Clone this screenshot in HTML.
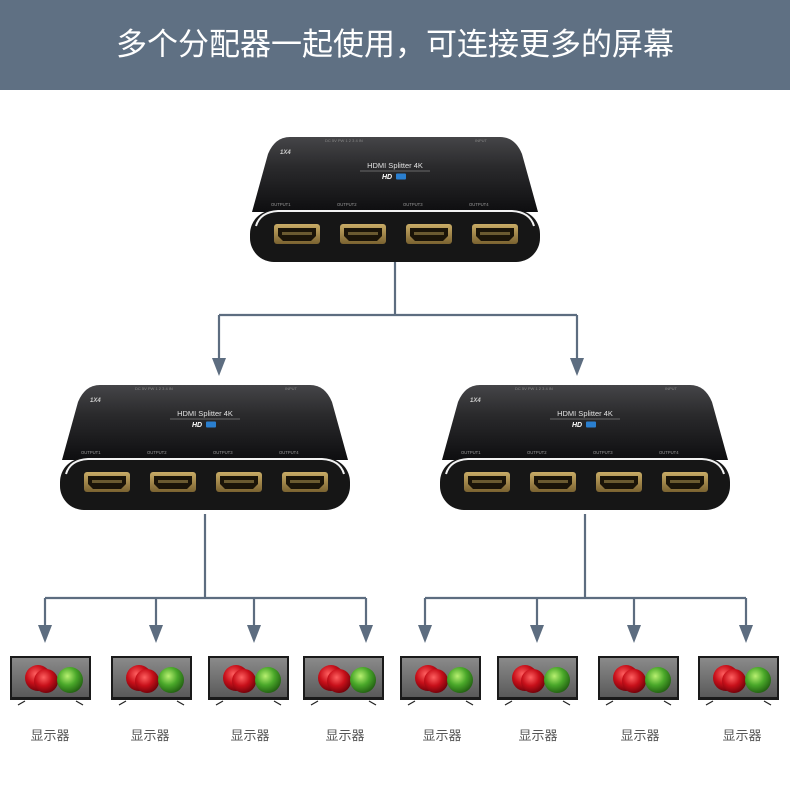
<!DOCTYPE html>
<html><head><meta charset="utf-8"><style>
html,body{margin:0;padding:0;background:#fff;width:790px;height:785px;overflow:hidden}
svg{display:block}
</style></head><body>
<svg width="790" height="785" viewBox="0 0 790 785" xmlns="http://www.w3.org/2000/svg" font-family="Liberation Sans, Noto Sans CJK SC, sans-serif">
<defs>
<linearGradient id="top" x1="0" y1="0" x2="0" y2="1"><stop offset="0" stop-color="#454548"/><stop offset="0.4" stop-color="#2a2a2c"/><stop offset="1" stop-color="#0e0e10"/></linearGradient>
<linearGradient id="gold" x1="0" y1="0" x2="0" y2="1"><stop offset="0" stop-color="#c9ac66"/><stop offset="1" stop-color="#7a6230"/></linearGradient>
<linearGradient id="scr" x1="0" y1="0" x2="0" y2="1"><stop offset="0" stop-color="#8a8a8a"/><stop offset="1" stop-color="#5a5a5a"/></linearGradient>
<radialGradient id="red" cx="0.4" cy="0.35" r="0.7"><stop offset="0" stop-color="#ff6060"/><stop offset="0.5" stop-color="#c8101a"/><stop offset="1" stop-color="#6a0008"/></radialGradient>
<radialGradient id="grn" cx="0.4" cy="0.35" r="0.7"><stop offset="0" stop-color="#b8f070"/><stop offset="0.5" stop-color="#4aa82a"/><stop offset="1" stop-color="#1f5a10"/></radialGradient>
<g id="port">
<rect x="-23" y="-10" width="46" height="20" rx="3" fill="url(#gold)"/>
<path d="M-19,-6 H19 V2 L14,7 H-14 L-19,2 Z" fill="#1a1408"/>
<rect x="-15" y="-2" width="30" height="3" fill="#6a5a30"/>
</g>
<g id="dev">
<path d="M40,3 H250 Q265,3 272,20 L288,78 H2 L18,20 Q25,3 40,3 Z" fill="url(#top)"/>
<text x="75" y="8" font-size="4" fill="#888">DC 5V   PW  1  2  3  4  IN</text>
<text x="225" y="8" font-size="4" fill="#888">INPUT</text>
<text x="30" y="20" font-size="6" fill="#ccc" font-style="italic" font-weight="bold">1X4</text>
<text x="145" y="34" font-size="7.5" fill="#e0e0e0" text-anchor="middle">HDMI Splitter 4K</text>
<line x1="110" y1="37" x2="180" y2="37" stroke="#aaa" stroke-width="0.6"/>
<text x="137" y="45" font-size="7" fill="#fff" font-weight="bold" font-style="italic" text-anchor="middle">HD</text>
<rect x="146" y="39.5" width="10" height="6" rx="1" fill="#2a7fd0"/>
<text x="21" y="72" font-size="4.2" fill="#999">OUTPUT1</text>
<text x="87" y="72" font-size="4.2" fill="#999">OUTPUT2</text>
<text x="153" y="72" font-size="4.2" fill="#999">OUTPUT3</text>
<text x="219" y="72" font-size="4.2" fill="#999">OUTPUT4</text>
<rect x="0" y="76" width="290" height="52" rx="24" fill="#161616"/>
<path d="M6,92 Q10,78 28,77 H262 Q280,78 284,92" fill="none" stroke="#f2f2f2" stroke-width="2"/>
<use href="#port" x="47" y="100"/>
<use href="#port" x="113" y="100"/>
<use href="#port" x="179" y="100"/>
<use href="#port" x="245" y="100"/>
</g>
<g id="arr"><path d="M-7,-18 H7 L0,0 Z" fill="#5d6d80"/></g>
<g id="mon">
<rect x="0" y="0" width="81" height="44" fill="#1a1a1a"/>
<rect x="2" y="2" width="77" height="39" fill="url(#scr)"/>
<circle cx="28" cy="22" r="13" fill="url(#red)"/>
<circle cx="36" cy="25" r="12" fill="url(#red)"/>
<circle cx="60" cy="24" r="13" fill="url(#grn)"/>
<line x1="8" y1="49" x2="15" y2="45" stroke="#222" stroke-width="1.2"/>
<line x1="66" y1="45" x2="73" y2="49" stroke="#222" stroke-width="1.2"/>
</g>
</defs>
<rect x="0" y="0" width="790" height="90" fill="#5f7083"/>
<text x="395" y="55" font-size="31" fill="#fff" text-anchor="middle" font-family="Noto Sans CJK SC, sans-serif">多个分配器一起使用，可连接更多的屏幕</text>

<g fill="none" stroke="#5d6d80" stroke-width="2.2">
<path d="M395,262 V315 M219,315 H577 M219,315 V360 M577,315 V360"/>
<path d="M205,514 V598 M45,598 H366 M45,598 V628 M156,598 V628 M254,598 V628 M366,598 V628"/>
<path d="M585,514 V598 M425,598 H746 M425,598 V628 M537,598 V628 M634,598 V628 M746,598 V628"/>
</g>
<use href="#arr" x="219" y="376"/>
<use href="#arr" x="577" y="376"/>
<use href="#arr" x="45" y="643"/><use href="#arr" x="156" y="643"/><use href="#arr" x="254" y="643"/><use href="#arr" x="366" y="643"/>
<use href="#arr" x="425" y="643"/><use href="#arr" x="537" y="643"/><use href="#arr" x="634" y="643"/><use href="#arr" x="746" y="643"/>

<use href="#dev" x="250" y="134"/>
<use href="#dev" x="60" y="382"/>
<use href="#dev" x="440" y="382"/>

<use href="#mon" x="10" y="656"/><use href="#mon" x="111" y="656"/><use href="#mon" x="208" y="656"/><use href="#mon" x="303" y="656"/>
<use href="#mon" x="400" y="656"/><use href="#mon" x="497" y="656"/><use href="#mon" x="598" y="656"/><use href="#mon" x="698" y="656"/>

<g font-size="13" fill="#555" text-anchor="middle" font-family="Noto Sans CJK SC, sans-serif">
<text x="50" y="740">显示器</text><text x="150" y="740">显示器</text><text x="250" y="740">显示器</text><text x="345" y="740">显示器</text>
<text x="442" y="740">显示器</text><text x="538" y="740">显示器</text><text x="640" y="740">显示器</text><text x="742" y="740">显示器</text>
</g>
</svg>
</body></html>
